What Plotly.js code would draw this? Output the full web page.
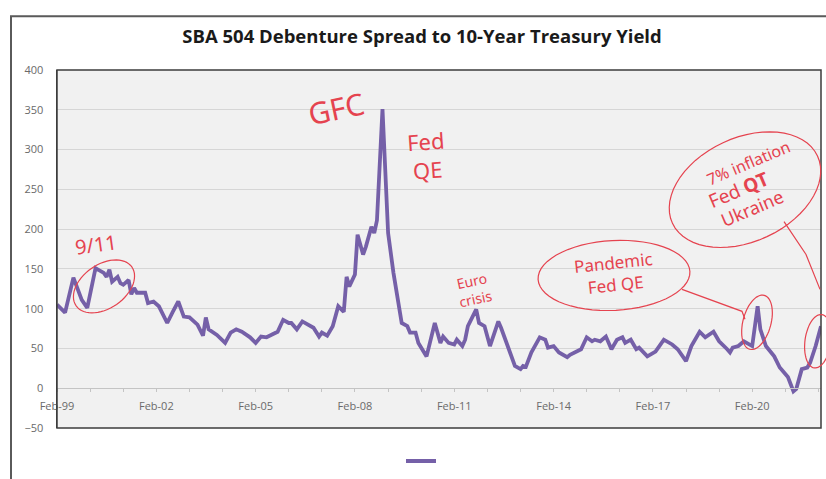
<!DOCTYPE html>
<html>
<head>
<meta charset="utf-8">
<script src="https://cdn.plot.ly/plotly-3.0.1.min.js"></script>
<style>html,body{margin:0;padding:0;background:#fff;}#chart{width:826px;height:479px;}</style>
</head>
<body>
<div id="chart"></div>
<script>
// ---- data ----
const months = [
 "1999-02","1999-05","1999-08","1999-11","2000-01","2000-04","2000-07","2000-08","2000-09","2000-10",
 "2000-12","2001-01","2001-02","2001-04","2001-05","2001-06","2001-07","2001-10","2001-11","2002-01",
 "2002-03","2002-06","2002-08","2002-10","2002-12","2003-02","2003-05","2003-07","2003-08","2003-09",
 "2003-12","2004-03","2004-05","2004-07","2004-09","2004-12","2005-02","2005-04","2005-06","2005-09",
 "2005-10","2005-12","2006-02","2006-03","2006-05","2006-07","2006-10","2006-11","2007-01","2007-02",
 "2007-04","2007-06","2007-08","2007-10","2007-11","2007-12","2008-02","2008-03","2008-05","2008-06",
 "2008-08","2008-09","2008-10","2008-12","2009-02","2009-04","2009-07","2009-09","2009-10","2009-12",
 "2010-01","2010-04","2010-07","2010-09","2010-10","2010-12","2011-02","2011-03","2011-05","2011-06",
 "2011-07","2011-09","2011-10","2011-11","2012-01","2012-03","2012-06","2012-07","2012-10","2012-12",
 "2013-02","2013-03","2013-04","2013-06","2013-09","2013-11","2013-12","2014-02","2014-04","2014-07",
 "2014-08","2014-10","2014-12","2015-02","2015-04","2015-05","2015-07","2015-09","2015-11","2016-01",
 "2016-03","2016-04","2016-06","2016-08","2016-09","2016-12","2017-03","2017-04","2017-06","2017-09",
 "2017-11","2018-02","2018-04","2018-07","2018-09","2018-12","2019-02","2019-05","2019-06","2019-07",
 "2019-09","2019-11","2020-02","2020-04","2020-05","2020-07","2020-10","2020-12","2021-03","2021-05",
 "2021-06","2021-08","2021-10","2021-11","2022-01","2022-03"
];
const spreadBps = [
 105,95,139,111,101,151,145,140,149,134,
 140,132,130,136,118,126,120,120,107,109,
 103,82,96,109,90,89,80,66,89,74,
 67,57,70,74,71,64,57,65,64,70,
 71,86,82,82,74,84,78,76,65,70,
 66,78,103,96,140,128,143,193,168,178,
 203,195,211,351,195,145,82,78,70,70,
 57,40,82,57,65,57,55,61,53,61,
 78,92,99,82,78,53,84,76,46,28,
 24,28,27,45,64,61,51,53,45,39,
 42,45,49,64,59,61,59,65,49,61,
 64,57,61,49,51,40,46,51,61,55,
 49,34,53,71,64,71,59,49,45,51,
 53,59,53,103,74,53,40,26,14,-4,
 -1,24,26,32,53,78
];
const yTicks = [-50,0,50,100,150,200,250,300,350,400];
const chartTitle = "SBA 504 Debenture Spread to 10-Year Treasury Yield";
const notes = ["9/11","GFC","Fed<br>QE","Euro<br>crisis","Pandemic<br>Fed QE","7% inflation","Fed <b>QT</b>","Ukraine"];

// ---- layout helpers (pixel -> paper) ----
const L = 57, R = 821, T = 70, B = 429;
const px = x => (x - L) / (R - L);
const py = y => (B - y) / (B - T);
const RED = "#e5434f";
function ellipsePath(cx, cy, rx, ry, angDeg) {
  const a = angDeg * Math.PI / 180, pts = [];
  for (let i = 0; i <= 60; i++) {
    const t = i / 60 * 2 * Math.PI;
    const ex = rx * Math.cos(t), ey = ry * Math.sin(t);
    const X = cx + ex * Math.cos(a) - ey * Math.sin(a);
    const Y = cy + ex * Math.sin(a) + ey * Math.cos(a);
    pts.push(px(X).toFixed(4) + "," + py(Y).toFixed(4));
  }
  return "M" + pts.join(" L") + " Z";
}
function polyPath(points) {
  return "M" + points.map(p => px(p[0]).toFixed(4) + "," + py(p[1]).toFixed(4)).join(" L");
}
const redLine = {color: RED, width: 1.2};
const shapes = [
  // outer chart frame
  {type:"rect", xref:"paper", yref:"paper", x0:px(11), x1:px(845), y0:py(500), y1:py(16),
   line:{color:"#5a5a5a", width:2}, layer:"above"},
  // plot area box
  {type:"rect", xref:"paper", yref:"paper", x0:0, x1:1, y0:0, y1:1,
   line:{color:"#3c3c3c", width:1.5}, layer:"above"},
  // 9/11 ellipse
  {type:"path", xref:"paper", yref:"paper", path:ellipsePath(104, 287, 34, 22, -35), line:redLine},
  // pandemic ellipse + connector + spike ellipse
  {type:"path", xref:"paper", yref:"paper", path:ellipsePath(614, 276, 76, 35, -3), line:redLine},
  {type:"path", xref:"paper", yref:"paper", path:polyPath([[682,290],[742,312],[745,320]]), line:redLine},
  {type:"path", xref:"paper", yref:"paper", path:ellipsePath(757, 323, 14, 28, 15), line:redLine},
  // 2022 ellipse + connector + end ellipse
  {type:"path", xref:"paper", yref:"paper", path:ellipsePath(745, 190, 80, 52, -25), line:redLine},
  {type:"path", xref:"paper", yref:"paper", path:polyPath([[784,222],[806,255],[820,290]]), line:redLine},
  {type:"path", xref:"paper", yref:"paper", path:ellipsePath(818, 342, 13, 27, 8), line:redLine}
];
const hand = (size) => ({family:"Noto Sans, sans-serif", size:size, color:RED});
const annotations = [
  {text:notes[0], x:px(96), y:py(245), textangle:-8, font:hand(20)},
  {text:notes[1], x:px(336), y:py(109), textangle:-12, font:hand(30)},
  {text:notes[2], x:px(426), y:py(156), textangle:-4, font:hand(22)},
  {text:notes[3], x:px(474), y:py(290), textangle:-12, font:hand(14)},
  {text:notes[4], x:px(614), y:py(274), textangle:-6, font:hand(17)},
  {text:notes[5], x:px(748), y:py(163), textangle:-23, font:hand(16)},
  {text:notes[6], x:px(738), y:py(190), textangle:-23, font:hand(19)},
  {text:notes[7], x:px(752), y:py(208), textangle:-23, font:hand(18)}
].map(a => Object.assign({xref:"paper", yref:"paper", showarrow:false, xanchor:"center", yanchor:"middle"}, a));

const trace = {
  x: months, y: spreadBps, type:"scatter", mode:"lines", name:"",
  line:{color:"#7560a8", width:3.8, shape:"linear"}, showlegend:true, hoverinfo:"skip"
};

const layout = {
  width:826, height:479,
  margin:{l:L, r:826-R, t:T, b:479-B},
  paper_bgcolor:"#ffffff", plot_bgcolor:"#f1f1f1",
  font:{family:"Open Sans, sans-serif", color:"#595959", size:11},
  title:{text:"<b>"+chartTitle+"</b>", x:422/826, xref:"container", xanchor:"center",
         y:1-37/479, yref:"container", yanchor:"middle",
         font:{family:"Open Sans, sans-serif", size:18.5, color:"#1a1a1a"}},
  xaxis:{type:"date", range:["1999-02-01","2022-03-01"], anchor:"free", position:50/450,
         tick0:"1999-02-01", dtick:"M36", tickformat:"%b-%y",
         showgrid:false, zeroline:false, showline:true, linecolor:"#c4c4c4", linewidth:1,
         ticks:"outside", ticklen:3, tickcolor:"#c4c4c4", ticklabelstandoff:5,
         minor:{dtick:"M12", tick0:"1999-02-01", ticks:"outside", ticklen:3, tickcolor:"#c4c4c4", showgrid:false},
         tickfont:{size:11, color:"#6a6a6a"}, fixedrange:true},
  yaxis:{range:[-50,400], tickvals:yTicks, showgrid:true, gridcolor:"#d6d6d6", gridwidth:1,
         zeroline:false, showline:true, linecolor:"#3c3c3c", linewidth:1.5, ticks:"",
         ticklabelstandoff:10, tickfont:{size:11, color:"#6a6a6a"}, fixedrange:true},
  showlegend:true,
  legend:{orientation:"h", x:px(401), xanchor:"left", y:py(461), yanchor:"middle",
          bgcolor:"rgba(0,0,0,0)", font:{size:11}},
  shapes:shapes, annotations:annotations
};
Plotly.newPlot("chart", [trace], layout, {staticPlot:true, displayModeBar:false});
</script>
</body>
</html>
